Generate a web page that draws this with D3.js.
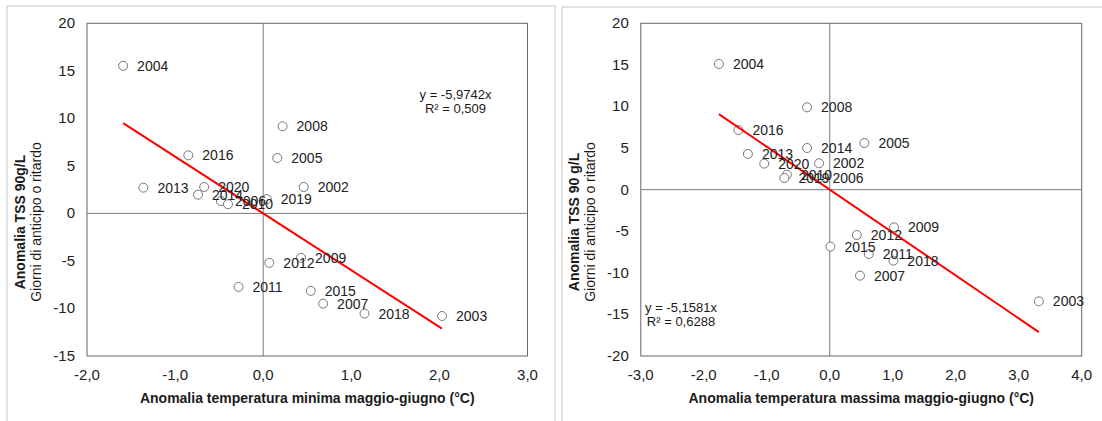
<!DOCTYPE html>
<html>
<head>
<meta charset="utf-8">
<script src="https://cdn.jsdelivr.net/npm/d3@7"></script>
<style>
  body { margin: 0; background: #fff; }
  svg text { font-family: "Liberation Sans", Arial, sans-serif; }
</style>
</head>
<body>
<div id="chart"></div>
<script>
// years shown next to each point (same in both panels)
const years = [2002, 2003, 2004, 2005, 2006, 2007, 2008, 2009, 2010,
               2011, 2012, 2013, 2014, 2015, 2016, 2018, 2019, 2020]

// left panel: minimum temperature anomaly vs TSS anomaly
const tMinAnom = [0.46, 2.03, -1.59, 0.16, -0.48, 0.68, 0.22, 0.43, -0.40,
                  -0.28, 0.07, -1.36, -0.74, 0.54, -0.85, 1.15, 0.04, -0.67]
const tssMin   = [2.78, -10.79, 15.53, 5.83, 1.30, -9.49, 9.17, -4.67, 0.97,
                  -7.73, -5.20, 2.71, 1.97, -8.15, 6.11, -10.54, 1.50, 2.78]

// right panel: maximum temperature anomaly vs TSS anomaly
const tMaxAnom = [-0.17, 3.32, -1.76, 0.55, -0.18, 0.48, -0.36, 1.02, -0.68,
                  0.62, 0.43, -1.30, -0.36, 0.01, -1.45, 1.01, -0.72, -1.04]
const tssMax   = [3.17, -13.43, 15.11, 5.61, 1.37, -10.34, 9.90, -4.53, 1.80,
                  -7.74, -5.45, 4.29, 5.01, -6.85, 7.17, -8.54, 1.40, 3.13]

// linear trendlines through origin
const slopeMin = -5.9742, r2Min = 0.509
const slopeMax = -5.1581, r2Max = 0.6288

const xTicksMin = [-2, -1, 0, 1, 2, 3]
const yTicksMin = [-15, -10, -5, 0, 5, 10, 15, 20]
const xTicksMax = [-3, -2, -1, 0, 1, 2, 3, 4]
const yTicksMax = [-20, -15, -10, -5, 0, 5, 10, 15, 20]

const it = d3.formatLocale({decimal: ",", thousands: ".", grouping: [3], currency: ["", "€"], minus: "-"})

const W = 1102, H = 421
const svg = d3.select("#chart").append("svg")
    .attr("width", W).attr("height", H)

function panel(opt) {
    const g = svg.append("g")

    // outer chart border
    g.append("rect")
        .attr("x", opt.box[0]).attr("y", opt.box[1])
        .attr("width", opt.box[2]).attr("height", opt.box[3])
        .attr("fill", "none").attr("stroke", "#d9d9d9").attr("stroke-width", 1.5)

    const x = d3.scaleLinear().domain(d3.extent(opt.xTicks)).range([opt.left, opt.right])
    const y = d3.scaleLinear().domain(d3.extent(opt.yTicks)).range([opt.bottom, opt.top])

    // plot frame
    g.append("rect")
        .attr("x", opt.left).attr("y", opt.top)
        .attr("width", opt.right - opt.left).attr("height", opt.bottom - opt.top)
        .attr("fill", "none").attr("stroke", "#666").attr("stroke-width", 1)

    // zero lines
    g.append("line")
        .attr("x1", x(0)).attr("x2", x(0)).attr("y1", opt.top).attr("y2", opt.bottom)
        .attr("stroke", "#7a7a7a")
    g.append("line")
        .attr("x1", opt.left).attr("x2", opt.right).attr("y1", y(0)).attr("y2", y(0))
        .attr("stroke", "#7a7a7a")

    // tick labels
    g.selectAll(".yt").data(opt.yTicks).join("text")
        .attr("x", opt.left - 12).attr("y", d => y(d) + 5)
        .attr("text-anchor", "end").attr("font-size", 15).attr("fill", "#222")
        .text(d => it.format("d")(d))
    g.selectAll(".xt").data(opt.xTicks).join("text")
        .attr("x", d => x(d)).attr("y", opt.bottom + 24)
        .attr("text-anchor", "middle").attr("font-size", 15).attr("fill", "#222")
        .text(d => it.format(".1f")(d))

    // axis titles
    g.append("text")
        .attr("x", (opt.left + opt.right) / 2).attr("y", 403)
        .attr("text-anchor", "middle").attr("font-size", 14).attr("font-weight", "bold")
        .attr("fill", "#1a1a1a")
        .text(opt.xTitle)
    const yt = g.append("text")
        .attr("transform", `translate(${opt.left - 62},222) rotate(-90)`)
        .attr("text-anchor", "middle").attr("font-size", 14).attr("fill", "#1a1a1a")
    yt.append("tspan").attr("x", 0).attr("dy", 0).attr("font-weight", "bold").text(opt.yTitle)
    yt.append("tspan").attr("x", 0).attr("dy", 16).text("Giorni di anticipo o ritardo")

    const pts = years.map((yr, i) => ({year: yr, x: opt.xs[i], y: opt.ys[i]}))

    // markers
    g.selectAll(".pt").data(pts).join("circle")
        .attr("cx", d => x(d.x)).attr("cy", d => y(d.y)).attr("r", 4.5)
        .attr("fill", "#fff").attr("stroke", "#777").attr("stroke-width", 1)

    // trendline over the data range
    const xr = d3.extent(opt.xs)
    g.append("line")
        .attr("x1", x(xr[0])).attr("y1", y(opt.slope * xr[0]))
        .attr("x2", x(xr[1])).attr("y2", y(opt.slope * xr[1]))
        .attr("stroke", "#ff0000").attr("stroke-width", 2)

    // year labels
    g.selectAll(".lb").data(pts).join("text")
        .attr("x", d => x(d.x) + 14).attr("y", d => y(d.y) + 5)
        .attr("font-size", 14).attr("fill", "#222")
        .text(d => d.year)

    // equation
    const eq = g.append("text")
        .attr("text-anchor", "middle").attr("font-size", 13).attr("fill", "#1a1a1a")
    eq.append("tspan").attr("x", opt.eq[0]).attr("y", opt.eq[1])
        .text("y = " + it.format(".4f")(opt.slope) + "x")
    eq.append("tspan").attr("x", opt.eq[0]).attr("y", opt.eq[1] + 14)
        .text("R² = " + it.format("")(opt.r2).replace(".", ","))
}

panel({
    box: [7, 6, 548, 440],
    left: 87, right: 527.5, top: 23.3, bottom: 356,
    xTicks: xTicksMin, yTicks: yTicksMin,
    xs: tMinAnom, ys: tssMin, slope: slopeMin, r2: r2Min,
    xTitle: "Anomalia temperatura minima maggio-giugno (°C)",
    yTitle: "Anomalia TSS 90g/L",
    eq: [455.5, 99]
})

panel({
    box: [562, 7, 560, 440],
    left: 640.8, right: 1081.7, top: 23.3, bottom: 356,
    xTicks: xTicksMax, yTicks: yTicksMax,
    xs: tMaxAnom, ys: tssMax, slope: slopeMax, r2: r2Max,
    xTitle: "Anomalia temperatura massima maggio-giugno (°C)",
    yTitle: "Anomalia TSS 90 g/L",
    eq: [681, 311.5]
})
</script>
</body>
</html>
